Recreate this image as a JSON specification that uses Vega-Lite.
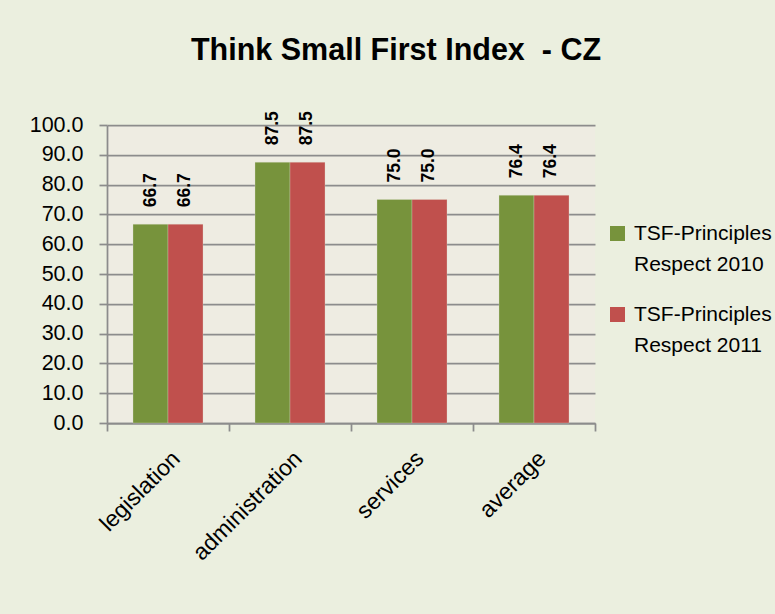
{
  "$schema": "https://vega.github.io/schema/vega-lite/v6.json",
  "width": 488,
  "height": 298,
  "autosize": {"type": "none"},
  "padding": {"left": 107, "top": 125, "right": 180, "bottom": 191},
  "background": "#EBEFDF",
  "title": {
    "text": "Think Small First Index \u00a0- CZ",
    "font": "Liberation Sans, Arial, sans-serif",
    "fontSize": 30.5,
    "fontWeight": "bold",
    "color": "#000000",
    "anchor": "middle",
    "frame": "group",
    "dx": 45,
    "baseline": "alphabetic",
    "offset": 21
  },
  "data": {
    "values": [
      {"category": "legislation", "series": "TSF-Principles Respect 2010", "value": 66.7},
      {"category": "legislation", "series": "TSF-Principles Respect 2011", "value": 66.7},
      {"category": "administration", "series": "TSF-Principles Respect 2010", "value": 87.5},
      {"category": "administration", "series": "TSF-Principles Respect 2011", "value": 87.5},
      {"category": "services", "series": "TSF-Principles Respect 2010", "value": 75.0},
      {"category": "services", "series": "TSF-Principles Respect 2011", "value": 75.0},
      {"category": "average", "series": "TSF-Principles Respect 2010", "value": 76.4},
      {"category": "average", "series": "TSF-Principles Respect 2011", "value": 76.4}
    ]
  },
  "encoding": {
    "x": {
      "field": "category",
      "type": "nominal",
      "sort": null,
      "scale": {"paddingInner": 0, "paddingOuter": 0},
      "axis": {
        "title": null,
        "labelAngle": -45,
        "labelFont": "Liberation Sans, Arial, sans-serif",
        "labelFontSize": 23,
        "labelColor": "#000000",
        "labelPadding": 16,
        "tickBand": "extent",
        "tickSize": 8,
        "tickColor": "#8C8C8C",
        "tickWidth": 1.75,
        "domainColor": "#8C8C8C",
        "domainWidth": 1.75,
        "grid": false
      }
    },
    "xOffset": {
      "field": "series",
      "type": "nominal",
      "scale": {"paddingInner": 0, "paddingOuter": 0.743}
    },
    "y": {
      "field": "value",
      "type": "quantitative",
      "scale": {"domain": [0, 100], "nice": false},
      "axis": {
        "title": null,
        "values": [0, 10, 20, 30, 40, 50, 60, 70, 80, 90, 100],
        "format": ".1f",
        "labelFont": "Liberation Sans, Arial, sans-serif",
        "labelFontSize": 21.5,
        "labelColor": "#000000",
        "labelPadding": 16,
        "tickSize": 8,
        "tickColor": "#8C8C8C",
        "tickWidth": 1.75,
        "domainColor": "#8C8C8C",
        "domainWidth": 1.75,
        "grid": true,
        "gridColor": "#8C8C8C",
        "gridWidth": 1.75
      }
    }
  },
  "layer": [
    {
      "mark": {"type": "bar", "stroke": "#E0E0D0", "strokeWidth": 0.5, "strokeOpacity": 0.6},
      "encoding": {
        "color": {
          "field": "series",
          "type": "nominal",
          "scale": {"range": ["#77933C", "#C0504D"]},
          "legend": {
            "title": null,
            "orient": "none",
            "legendX": 500,
            "legendY": 98,
            "symbolType": "square",
            "symbolSize": 225,
            "symbolStrokeWidth": 0,
            "labelFont": "Liberation Sans, Arial, sans-serif",
            "labelFontSize": 21,
            "labelColor": "#000000",
            "labelLimit": 0,
            "labelOffset": 6,
            "labelBaseline": "middle",
            "labelExpr": "[slice(datum.label, 0, 14), slice(datum.label, 15)]",
            "rowPadding": 28
          }
        }
      }
    },
    {
      "mark": {
        "type": "text",
        "angle": 270,
        "align": "left",
        "baseline": "middle",
        "dx": 17,
        "font": "Liberation Sans, Arial, sans-serif",
        "fontSize": 17.5,
        "fontWeight": "bold",
        "color": "#000000"
      },
      "encoding": {
        "text": {"field": "value", "type": "quantitative", "format": ".1f"}
      }
    }
  ],
  "config": {
    "view": {"fill": "#EEECE2", "stroke": null},
    "style": {"guide-label": {"lineHeight": 31}}
  }
}
